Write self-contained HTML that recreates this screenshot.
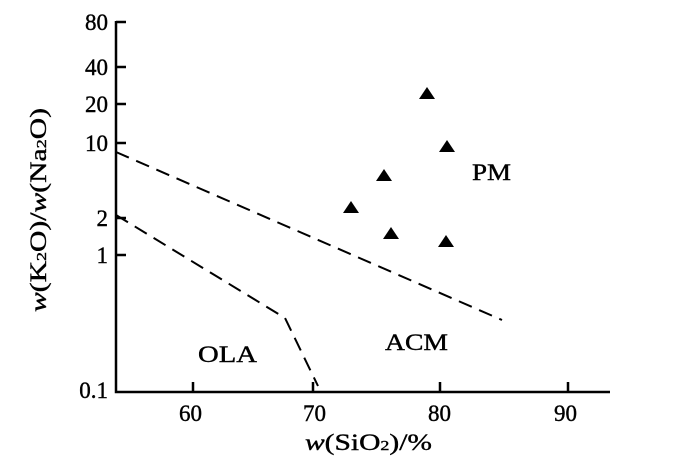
<!DOCTYPE html>
<html><head><style>body{margin:0;background:#fff}svg{display:block}text{font-family:"Liberation Serif",serif}</style></head><body>
<svg width="700" height="475" xmlns="http://www.w3.org/2000/svg" fill="#000">
<g stroke="#000" stroke-width="2.5" fill="none">
<path d="M116,21 V392 H610"/>
<path d="M116,22 h10 M116,67 h10 M116,104 h10 M116,143 h10 M116,218 h10 M116,255 h10"/>
<path d="M193,392 v-10 M313,392 v-10 M440,392 v-10 M568,392 v-10"/>
</g>
<g stroke="#000" stroke-width="2" fill="none" stroke-dasharray="14,8">
<path d="M116,152 L502,320"/>
<path d="M116,215 L285,318 L318,386"/>
</g>
<g>
<polygon points="427,87 419,99 435,99"/>
<polygon points="447,140 439,152 455,152"/>
<polygon points="384,169 376,181 392,181"/>
<polygon points="351,201 343,213 359,213"/>
<polygon points="391,227 383,239 399,239"/>
<polygon points="446,235 438,247 454,247"/>
</g>
<g font-size="23" text-anchor="end" stroke="#000" stroke-width="0.4">
<text x="108" y="30">80</text><text x="108" y="75">40</text><text x="108" y="112">20</text>
<text x="108" y="151">10</text><text x="108" y="226">2</text><text x="108" y="263">1</text>
<text x="108" y="398">0.1</text>
</g>
<g font-size="23" stroke="#000" stroke-width="0.4">
<text x="179" y="421">60</text><text x="303" y="421">70</text><text x="428" y="421">80</text><text x="554" y="421">90</text>
<text x="472" y="180" textLength="39" lengthAdjust="spacingAndGlyphs">PM</text>
<text x="385" y="350" textLength="63" lengthAdjust="spacingAndGlyphs">ACM</text>
<text x="198" y="362" textLength="59" lengthAdjust="spacingAndGlyphs">OLA</text>
<text x="305" y="450" textLength="127" lengthAdjust="spacingAndGlyphs"><tspan font-style="italic">w</tspan>(SiO<tspan font-size="14">2</tspan>)/%</text>
<text transform="translate(46,312) rotate(-90)" x="0" y="0" textLength="204" lengthAdjust="spacingAndGlyphs"><tspan font-style="italic">w</tspan>(K<tspan font-size="14">2</tspan>O)/<tspan font-style="italic">w</tspan>(Na<tspan font-size="14">2</tspan>O)</text>
</g>
</svg>
</body></html>
